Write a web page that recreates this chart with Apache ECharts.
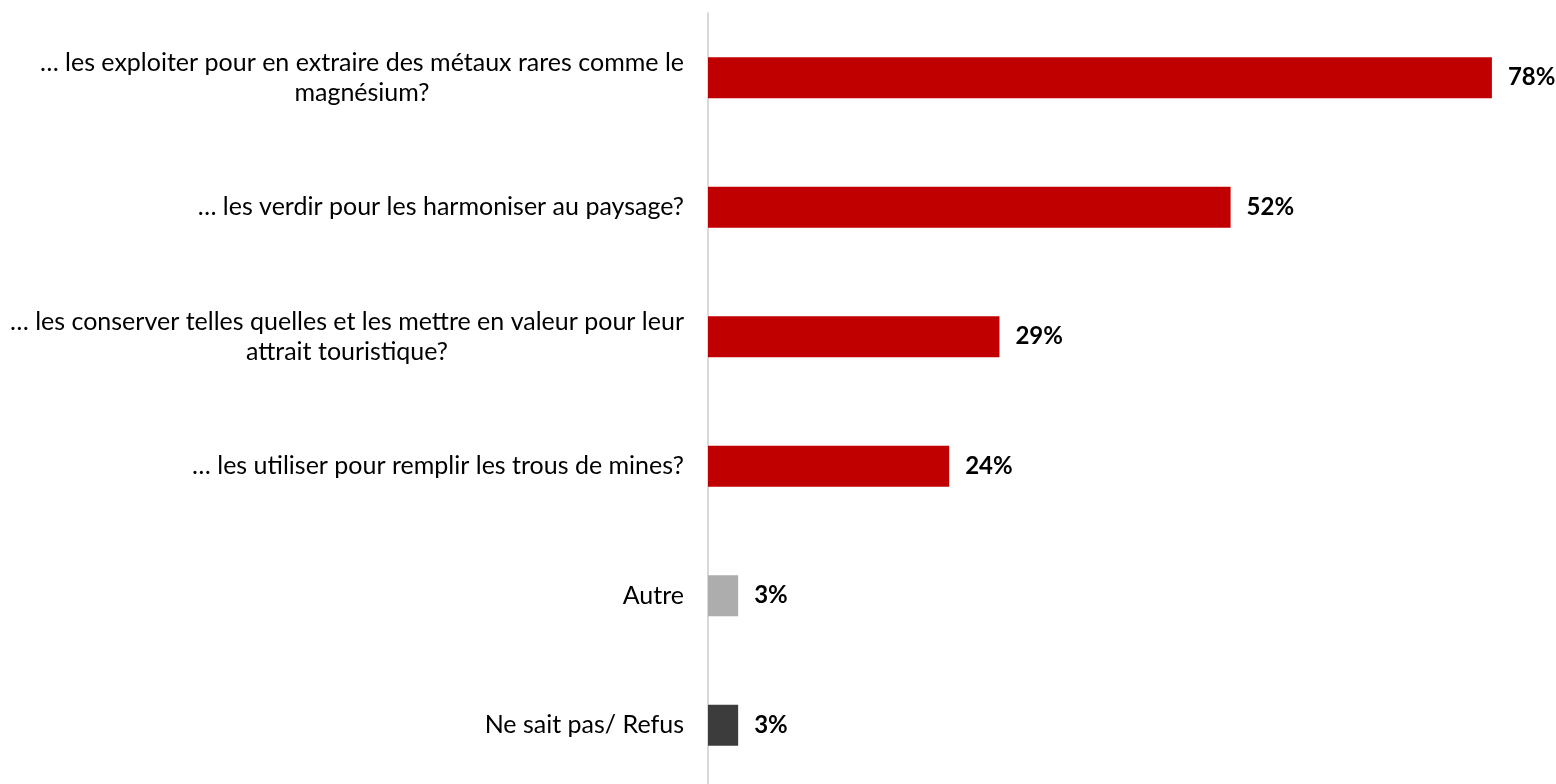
<!DOCTYPE html>
<html>
<head>
<meta charset="utf-8">
<script src="https://cdn.jsdelivr.net/npm/echarts@6/dist/echarts.min.js"></script>
<style>html,body{margin:0;padding:0;background:#fff;}#chart{width:1556px;height:784px;}</style>
</head>
<body>
<div id="chart"></div>
<script>
const categories = [
  "… les exploiter pour en extraire des métaux rares comme le\nmagnésium?",
  "… les verdir pour les harmoniser au paysage?",
  "… les conserver telles quelles et les mettre en valeur pour leur\nattrait touristique?",
  "… les utiliser pour remplir les trous de mines?",
  "Autre",
  "Ne sait pas/ Refus"
];
const values = [78, 52, 29, 24, 3, 3];
const barColors = ["#C00000", "#C00000", "#C00000", "#C00000", "#ADADAD", "#3C3C3C"];

const chart = echarts.init(document.getElementById('chart'), null, {renderer: 'canvas'});
chart.setOption({
  animation: false,
  backgroundColor: '#fff',
  grid: {left: 708, top: 13, width: 804, height: 777, containLabel: false, outerBoundsMode: 'none'},
  xAxis: {
    type: 'value', min: 0, max: 80,
    show: false
  },
  yAxis: {
    type: 'category',
    data: categories,
    inverse: true,
    axisLine: {show: true, lineStyle: {color: '#D9D9D9', width: 2}},
    axisTick: {show: false},
    axisLabel: {
      margin: 24,
      color: '#000',
      fontFamily: 'Lato',
      fontSize: 25,
      lineHeight: 30,
      align: 'right',
      formatter: v => v.split('\n').map(l => '{c|' + l + '}').join('\n'),
      rich: {
        c: {align: 'center', fontFamily: 'Lato', fontSize: 25, lineHeight: 30, color: '#000'}
      }
    }
  },
  series: [{
    type: 'bar',
    barWidth: 41,
    data: values.map((v, i) => ({value: v, itemStyle: {color: barColors[i]}})),
    label: {
      show: true,
      position: 'right',
      distance: 16,
      formatter: '{c}%',
      color: '#000',
      fontFamily: 'Lato',
      fontWeight: 'bold',
      fontSize: 24
    }
  }]
});
</script>
</body>
</html>
